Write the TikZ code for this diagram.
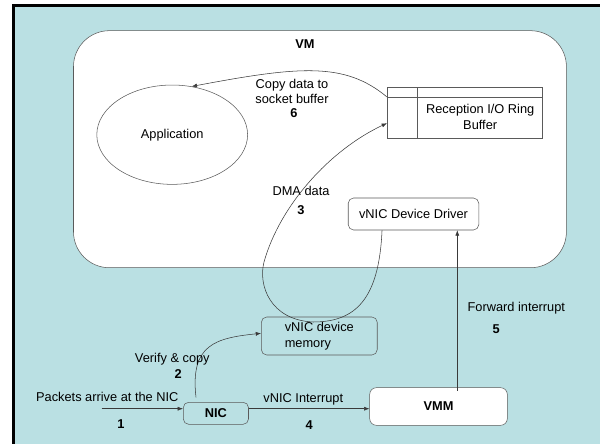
\documentclass[tikz,border=0pt]{standalone}
\usepackage{fontspec}
\setmainfont{Liberation Sans}
\usetikzlibrary{positioning,shapes.geometric,arrows.meta}
\definecolor{sea}{HTML}{BAE0E3}
\definecolor{rim}{HTML}{5A5A5A}
\definecolor{wire}{HTML}{3A3A3A}

\begin{document}
\begin{tikzpicture}[x=0.75pt,y=-0.75pt,
  every node/.style={font=\fontsize{9.6}{11.6}\selectfont}]
  \tikzstyle{unit}=[draw=rim,rounded corners=4pt,align=center,inner sep=0pt]
  \tikzstyle{num}=[font=\fontsize{9.6}{11.6}\selectfont\bfseries]
  \tikzstyle{flow}=[draw=wire,-{Latex[length=4pt,width=3pt]}]
  \useasboundingbox (0,0) rectangle (600,445);
  % backdrop and frame
  \fill[sea] (13,5.5) rectangle (600,444);
  \draw[line width=2pt] (600,5.5) -- (13.8,5.5) -- (13.8,444);
  % guest side
  \node[unit,fill=white,rounded corners=27pt,minimum width=369.7pt,minimum height=177.8pt] (vm) at (319.95,149.2) {};
  \node[num] (vmlbl) at (305,44.3) {VM};
  \node[ellipse,draw=rim,minimum width=113.1pt,minimum height=74.5pt,inner sep=0pt] (app) at (172.2,134.7) {Application};
  \node[draw=rim,minimum width=116.6pt,minimum height=38.3pt] (ring) at (465,113.2) {};
  \draw[rim] ([yshift=-7.2pt]ring.north west) -- ([yshift=-7.2pt]ring.north east);
  \draw[rim] ([xshift=22.8pt]ring.north west) -- ([xshift=22.8pt]ring.south west);
  \node[align=center] (ringtxt) at (480.2,117) {Reception I/O Ring\\Buffer};
  \node[unit,fill=white,minimum width=97.9pt,minimum height=24pt] (drv) at (413.5,214) {vNIC Device Driver};
  % host side
  \node[unit,align=left,minimum width=86.9pt,minimum height=28.5pt] (mem) at (319.3,336) {vNIC device\\memory};
  \node[unit,num,minimum width=48.9pt,minimum height=16.5pt] (nic) at (215.9,413.3) {NIC};
  \node[unit,num,fill=white,rounded corners=5pt,minimum width=103.2pt,minimum height=28.2pt] (vmm) at (438.5,406.5) {VMM};
  \coordinate (src) at (101.7,408.7);
  \coordinate (fwd) at (457.3,391);
  \coordinate (vfy) at (196,397.3);
  \coordinate (cpy) at ([yshift=-7.2pt]ring.north west);
  % flows
  \draw[flow] (src) -- (src -| nic.west);
  \draw[flow] (vfy) .. controls (190,345) and (215,338) .. ([yshift=2pt]mem.west);
  \draw[flow] ([xshift=-23.6pt]drv.south) .. controls (379,300) and (355,322) .. (313,322)
    .. controls (270,320) and (258,285) .. (264,262)
    .. controls (280,205) and (330,150) .. ([yshift=-7.5pt]ring.west);
  \draw[flow] (src -| nic.east) -- (src -| vmm.west);
  \draw[flow] (fwd) -- (fwd |- drv.south);
  \draw[flow] (cpy) .. controls (345,62) and (300,66) .. (app.68);
  % step labels
  \node (l1) at (107.3,396.7) {Packets arrive at the NIC};
  \node[num] (n1) at (121,423.7) {1};
  \node (l2) at (172.3,359) {Verify \& copy};
  \node[num] (n2) at (178.3,373.7) {2};
  \node (l3) at (301,191) {DMA data};
  \node[num,below=0.7pt of l3] (n3) {3};
  \node (l4) at (303.3,399.3) {vNIC Interrupt};
  \node[num] (n4) at (309.3,425.3) {4};
  \node (l5) at (516.3,308) {Forward interrupt};
  \node[num] (n5) at (496.3,329.3) {5};
  \node[align=center] (l6) at (292,91.2) {Copy data to\\socket buffer};
  \node[num] (n6) at (294,113.3) {6};
\end{tikzpicture}
\end{document}
